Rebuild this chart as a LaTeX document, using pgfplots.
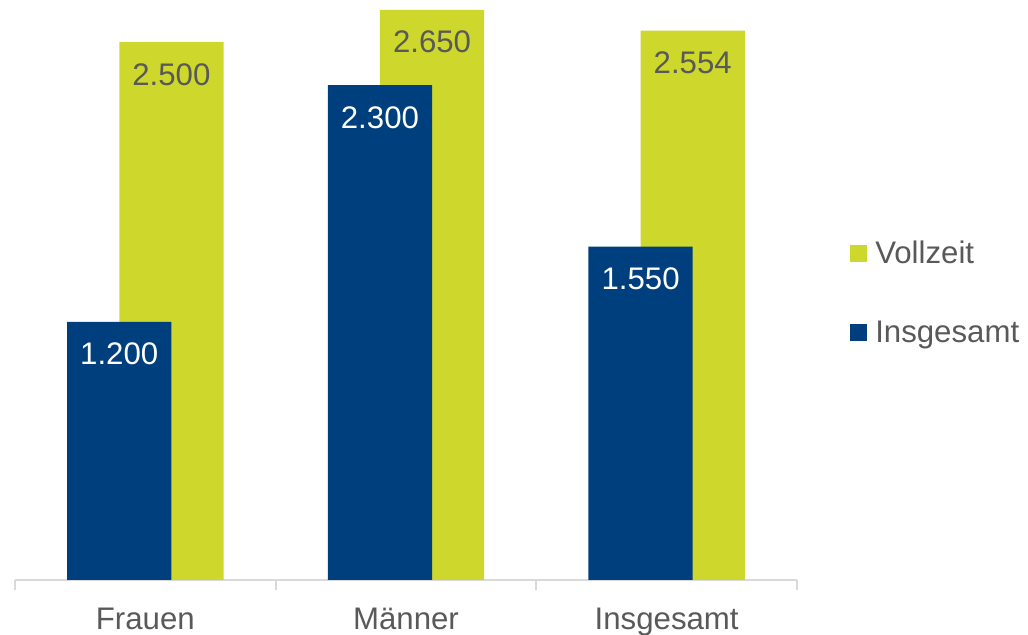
\documentclass[border=0pt]{standalone}
\usepackage{fontspec}
\setmainfont{Liberation Sans}
\usepackage{pgfplots}
\pgfplotsset{compat=1.18}
\definecolor{cblue}{HTML}{003F7D}
\definecolor{cgreen}{HTML}{CED72C}
\definecolor{ctext}{HTML}{595959}
\definecolor{caxis}{HTML}{D9D9D9}
\begin{document}
\begin{tikzpicture}[font=\fontsize{23.4}{27}\selectfont]
\useasboundingbox (-11.25pt,-41.25pt) rectangle (759.75pt,435pt);
\begin{axis}[
  at={(0,0)}, anchor=south west,
  scale only axis, width=586.5pt, height=435pt,
  xmin=-0.5, xmax=2.5, ymin=0, ymax=2696,
  separate axis lines,
  axis x line*=bottom, axis y line=none,
  x axis line style={caxis, line width=1.5pt, -},
  xtick={0,1,2}, xticklabels={Frauen,Männer,Insgesamt},
  major tick length=0pt,
  minor xtick={-0.5,0.5,1.5,2.5},
  minor tick length=7.5pt, tick align=outside,
  minor x tick style={caxis, line width=1.5pt},
  xticklabel style={text=ctext, anchor=base, yshift=-36.75pt},
  ytick=\empty,
  ybar, bar width=0.4,
  /pgf/number format/.cd, fixed, precision=0, 1000 sep={.}, assume math mode=true,
  /pgfplots/.cd,
  nodes near coords,
  every node near coord/.append style={anchor=north, inner sep=0pt, yshift=-15.75pt},
  legend style={at={(1,0.495)}, anchor=west, xshift=39.75pt, draw=none, fill=none,
    inner sep=0pt, row sep=41.5pt, nodes={inner sep=0pt, text=ctext},
    /tikz/every odd column/.style={column sep=6pt}},
  legend cell align=left,
  legend image code/.code={\fill[#1, draw=none] (0pt,-6.375pt) rectangle (12.75pt,6.375pt);},
]
\addplot[fill=cgreen, draw=none, bar shift=0.1,
  every node near coord/.append style={text=ctext}]
  coordinates {(0,2500) (1,2650) (2,2554)};
\addlegendentry{Vollzeit}
\addplot[fill=cblue, draw=none, bar shift=-0.1,
  every node near coord/.append style={text=white}]
  coordinates {(0,1200) (1,2300) (2,1550)};
\addlegendentry{Insgesamt}
\end{axis}
\end{tikzpicture}
\end{document}
